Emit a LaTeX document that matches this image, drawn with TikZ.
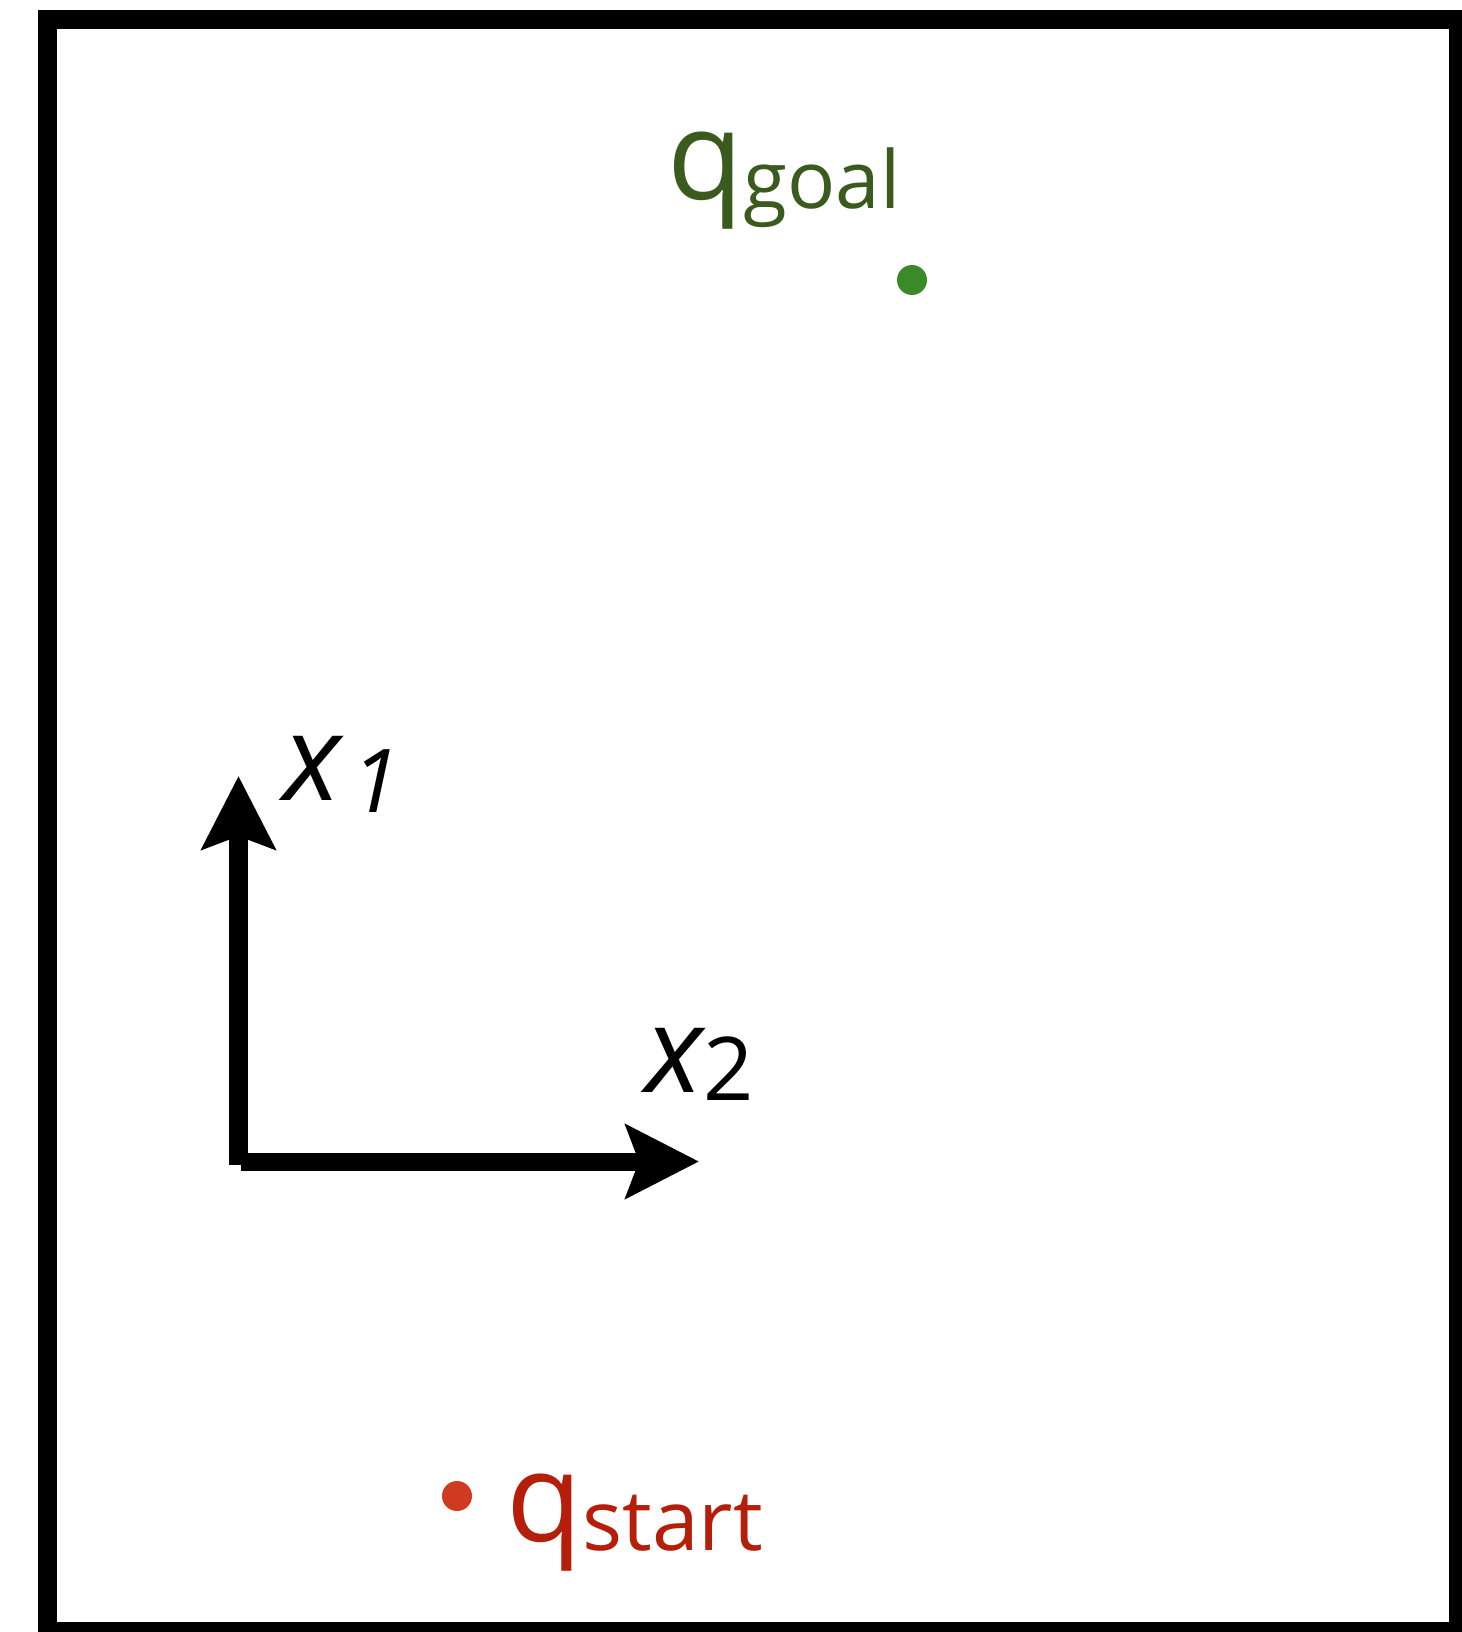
\documentclass[tikz,border=0pt]{standalone}
\usepackage{fontspec}
\setmainfont{Open Sans}
\usetikzlibrary{arrows.meta}
\definecolor{goalink}{HTML}{3B5A1E}
\definecolor{goaldotc}{HTML}{3A8A2A}
\definecolor{startink}{HTML}{B41E0A}
\definecolor{startdotc}{HTML}{D03A1E}

\begin{document}
\begin{tikzpicture}[x=0.5pt, y=-0.5pt,
  frame/.style={draw=black, line width=9.5pt},
  axis/.style={draw=black, line width=9.25pt,
               -{Stealth[length=36.5pt, width=36.5pt, inset=6.5pt]}},
  pt/.style={circle, inner sep=0pt, minimum size=15pt},
  qlbl/.style={anchor=base west, inner sep=0pt},
  axlbl/.style={anchor=base west, inner sep=0pt,
                font=\fontsize{60pt}{60pt}\selectfont\itshape}]

\useasboundingbox (0,0) rectangle (1461,1632);
\draw[frame] (47.5,19.5) rectangle (1458.5,1631.5);

% goal
\node[pt, fill=goaldotc] (goal) at (912,280) {};
\node[qlbl, text=goalink] (goallbl) at (667,199)
  {{\fontsize{62pt}{62pt}\selectfont q}\raisebox{-4.5pt}{\fontsize{40pt}{40pt}\selectfont goal}};

% start
\node[pt, fill=startdotc] (start) at (457,1496) {};
\node[qlbl, text=startink] (startlbl) at (506,1541)
  {{\fontsize{62pt}{62pt}\selectfont q}\raisebox{-4.5pt}{\fontsize{42pt}{42pt}\selectfont start}};

% axes
\coordinate (o1) at (238.5,1165);
\coordinate (x1tip) at (238.5,776);
\coordinate (o2) at (241,1161.5);
\coordinate (x2tip) at (699,1161.5);
\draw[axis] (o1) -- (x1tip);
\draw[axis, line width=9pt] (o2) -- (x2tip);

\node[axlbl] (x1lbl) at (283,800)
  {x\kern 5pt\raisebox{-6pt}{\fontsize{44pt}{44pt}\selectfont 1}};
\node[axlbl] (x2lbl) at (645,1092)
  {x\raisebox{-4pt}{\fontsize{44pt}{44pt}\selectfont\upshape 2}};

\end{tikzpicture}
\end{document}
